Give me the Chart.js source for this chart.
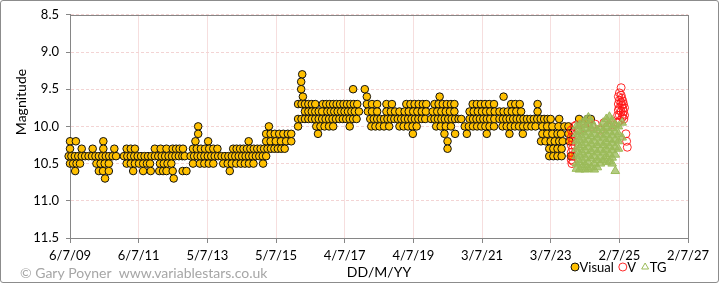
<!DOCTYPE html>
<html>
<head>
<meta charset="utf-8">
<script src="https://cdn.jsdelivr.net/npm/chart.js@4/dist/chart.umd.min.js"></script>
<style>
  html, body { margin: 0; padding: 0; background: #fff; }
  #wrap { position: relative; width: 719px; height: 283px; }
  #wrap canvas { position: absolute; left: 0; top: 0; }
  #frame { position: absolute; left: 0; top: 0; width: 717px; height: 281px;
           border: 1px solid #8c8c8c; border-radius: 3px; pointer-events: none; }
</style>
</head>
<body>
<div id="wrap">
  <canvas id="lightcurve" width="719" height="283"></canvas>
  <div id="frame"></div>
</div>
<script>
// Axis tick labels (D/M/YY), one every 730 days
const tickLabels = ['6/7/09', '6/7/11', '5/7/13', '5/7/15', '4/7/17', '4/7/19', '3/7/21', '3/7/23', '2/7/25', '2/7/27'];
const magTicks = [8.5, 9.0, 9.5, 10.0, 10.5, 11.0, 11.5];

// Visual estimates: [magnitude, [dates as decimal years]]
const visualRows = [
  [9.3, [2016.27]],
  [9.4, [2016.24]],
  [9.5, [2016.24, 2017.75, 2018.09]],
  [9.6, [2016.29, 2018.15, 2020.27, 2022.13]],
  [9.7, [2016.15, 2016.25, 2016.35, 2016.45, 2016.55, 2016.65, 2016.87, 2016.97, 2017.07, 2017.17, 2017.27,
         2017.37, 2017.47, 2017.57, 2017.67, 2017.77, 2017.87, 2018.15, 2018.3, 2018.45, 2018.72, 2018.88,
         2019.3, 2019.42, 2019.54, 2019.66, 2019.78, 2019.88, 2020.12, 2020.24, 2020.36, 2020.48, 2020.6,
         2020.7, 2021.23, 2021.35, 2021.47, 2021.59, 2021.71, 2021.85, 2022.35, 2022.47, 2022.6, 2023.12]],
  [9.8, [2016.35, 2016.45, 2016.55, 2016.65, 2016.75, 2016.85, 2017.0, 2017.1, 2017.2, 2017.3, 2017.4, 2017.5,
         2017.6, 2017.7, 2017.8, 2017.92, 2018.18, 2018.3, 2018.45, 2018.72, 2018.85, 2018.97, 2019.1, 2019.25,
         2019.37, 2019.5, 2019.62, 2019.75, 2019.87, 2020.07, 2020.2, 2020.32, 2020.45, 2020.57, 2020.7,
         2021.14, 2021.26, 2021.38, 2021.5, 2021.62, 2021.74, 2021.87, 2022.01, 2022.13, 2022.25, 2022.37,
         2022.5, 2022.64, 2023.12]],
  [9.9, [2016.15, 2016.25, 2016.35, 2016.45, 2016.55, 2016.65, 2016.75, 2016.85, 2016.95, 2017.05, 2017.15,
         2017.25, 2017.35, 2017.45, 2017.55, 2017.65, 2017.75, 2017.85, 2018.25, 2018.35, 2018.45, 2018.55,
         2018.65, 2018.75, 2018.85, 2018.95, 2019.05, 2019.15, 2019.25, 2019.35, 2019.45, 2019.55, 2019.65,
         2019.75, 2019.85, 2020.02, 2020.12, 2020.22, 2020.32, 2020.42, 2020.52, 2020.62, 2020.72, 2020.82,
         2020.9, 2021.14, 2021.24, 2021.34, 2021.44, 2021.54, 2021.64, 2021.74, 2021.86, 2022.01, 2022.11,
         2022.21, 2022.31, 2022.41, 2022.51, 2022.61, 2022.71, 2022.81, 2022.91, 2023.01, 2023.11, 2023.21,
         2023.31, 2023.41, 2023.5, 2023.75, 2024.33, 2024.57, 2024.67]],
  [10.0, [2013.24, 2015.3, 2016.15, 2016.68, 2016.8, 2016.92, 2017.05, 2017.17, 2017.65, 2018.28, 2018.4,
          2018.52, 2018.65, 2018.8, 2019.1, 2019.22, 2019.35, 2019.48, 2019.6, 2020.17, 2020.3, 2020.45,
          2020.6, 2021.0, 2021.12, 2021.24, 2021.36, 2021.48, 2021.6, 2021.72, 2021.85, 2022.1, 2022.22,
          2022.34, 2022.46, 2022.58, 2022.7, 2022.82, 2022.94, 2023.06, 2023.26, 2023.4, 2023.55, 2023.73,
          2023.9, 2024.02]],
  [10.1, [2013.24, 2015.22, 2015.35, 2015.47, 2015.6, 2015.72, 2015.85, 2015.95, 2016.73, 2019.49, 2020.41,
          2020.72, 2021.06, 2021.64, 2022.3, 2022.69, 2023.26, 2023.4, 2023.55, 2023.7, 2023.8, 2024.02]],
  [10.2, [2009.51, 2009.68, 2010.48, 2013.16, 2013.53, 2014.71, 2015.22, 2015.35, 2015.5, 2015.65, 2015.8,
          2015.95, 2020.5, 2023.22, 2023.35, 2023.5, 2023.62, 2023.75, 2023.85, 2024.05]],
  [10.3, [2009.51, 2009.85, 2010.17, 2010.48, 2010.8, 2011.16, 2011.28, 2011.4, 2011.98, 2012.15, 2012.32,
          2012.5, 2012.6, 2012.7, 2012.8, 2013.09, 2013.2, 2013.32, 2013.44, 2013.56, 2013.68, 2013.8, 2014.26,
          2014.36, 2014.46, 2014.56, 2014.66, 2014.76, 2014.86, 2014.96, 2015.06, 2015.16, 2015.26, 2015.36,
          2015.46, 2015.56, 2015.66, 2015.76, 2020.5, 2023.46, 2023.58, 2023.7, 2023.82]],
  [10.4, [2009.47, 2009.55, 2009.65, 2009.75, 2009.85, 2009.95, 2010.05, 2010.15, 2010.25, 2010.35, 2010.45,
          2010.55, 2010.65, 2010.75, 2010.85, 2011.08, 2011.18, 2011.28, 2011.38, 2011.48, 2011.58, 2011.68,
          2011.78, 2011.88, 2011.98, 2012.08, 2012.18, 2012.28, 2012.38, 2012.48, 2012.58, 2012.68, 2012.78,
          2012.85, 2013.02, 2013.12, 2013.22, 2013.32, 2013.42, 2013.52, 2013.62, 2013.72, 2013.82, 2013.92,
          2014.02, 2014.12, 2014.22, 2014.32, 2014.42, 2014.52, 2014.62, 2014.72, 2014.82, 2014.92, 2015.02,
          2015.12, 2015.22, 2023.46, 2023.58, 2023.7, 2023.82, 2024.09]],
  [10.5, [2009.51, 2009.6, 2009.7, 2009.8, 2010.28, 2010.4, 2010.52, 2010.64, 2011.16, 2011.28, 2011.4,
          2011.52, 2011.64, 2011.75, 2011.84, 2012.13, 2012.24, 2012.35, 2012.46, 2013.09, 2013.29, 2013.42,
          2013.55, 2013.68, 2013.97, 2014.1, 2014.22, 2014.35, 2014.48, 2014.6, 2014.72, 2014.85, 2015.13]],
  [10.6, [2009.66, 2010.35, 2010.47, 2010.64, 2011.35, 2011.64, 2011.86, 2012.11, 2012.22, 2012.32, 2012.5,
          2012.79, 2012.9, 2014.16]],
  [10.7, [2010.53, 2012.53]]
];

// V-band CCD: [decimal year, magnitude]
const vObs = [
  [2024.1, 10.05], [2024.1, 10.15], [2024.1, 10.25], [2024.1, 10.35], [2024.1, 10.45], [2024.12, 10.5],
  [2024.14, 10.1], [2024.14, 10.2], [2024.14, 10.3], [2024.14, 10.4], [2024.16, 10.47], [2024.18, 10.0],
  [2024.2, 10.12], [2024.2, 10.25], [2024.22, 10.35], [2024.25, 9.98], [2024.3, 10.05], [2024.4, 9.97],
  [2024.5, 10.02], [2024.6, 9.95], [2024.7, 10.0], [2024.8, 9.97], [2024.95, 10.05], [2025.05, 9.95],
  [2025.15, 10.0], [2025.3, 9.98],
  [2025.45, 9.85], [2025.45, 9.95], [2025.47, 9.6], [2025.47, 9.7], [2025.47, 9.78], [2025.5, 9.55],
  [2025.5, 9.65], [2025.5, 9.75], [2025.5, 9.85], [2025.52, 9.92], [2025.55, 9.48], [2025.55, 9.58],
  [2025.55, 9.68], [2025.55, 9.8], [2025.57, 9.62], [2025.57, 9.72], [2025.58, 9.88], [2025.6, 9.66],
  [2025.6, 9.76], [2025.6, 9.84], [2025.62, 9.7], [2025.62, 9.8], [2025.63, 9.9], [2025.65, 9.75],
  [2025.65, 9.85], [2025.69, 10.1], [2025.71, 10.2], [2025.73, 10.28]
];

// TG (green CCD): [decimal year, [magnitudes]]
const tgCols = [
  [2024.25, [10.0, 10.1, 10.2, 10.3, 10.4, 10.5, 10.57]],
  [2024.34, [9.98, 10.08, 10.18, 10.28, 10.38, 10.48, 10.58]],
  [2024.42, [9.95, 10.05, 10.15, 10.25, 10.35, 10.45, 10.55]],
  [2024.51, [9.92, 10.02, 10.12, 10.22, 10.32, 10.42, 10.52, 10.58]],
  [2024.6, [9.88, 9.98, 10.08, 10.18, 10.28, 10.38, 10.48, 10.57]],
  [2024.68, [9.93, 10.03, 10.13, 10.23, 10.33, 10.43, 10.55]],
  [2024.77, [10.0, 10.1, 10.2, 10.3, 10.4, 10.5, 10.58]],
  [2024.86, [10.05, 10.15, 10.25, 10.35, 10.45, 10.55]],
  [2024.95, [10.02, 10.12, 10.22, 10.32, 10.42, 10.5]],
  [2025.03, [9.95, 10.05, 10.15, 10.25, 10.35, 10.45]],
  [2025.12, [9.9, 10.0, 10.1, 10.2, 10.3, 10.4, 10.48]],
  [2025.21, [9.87, 9.97, 10.07, 10.17, 10.27, 10.37, 10.47]],
  [2025.29, [9.92, 10.02, 10.12, 10.22, 10.32, 10.42, 10.5]],
  [2025.38, [9.98, 10.08, 10.18, 10.28, 10.38, 10.6]],
  [2025.47, [10.0, 10.1, 10.2, 10.3]],
  [2025.58, [9.95, 10.15]]
];

const FONT = 'Lato, "Open Sans", "DejaVu Sans", sans-serif';

function labelToDay(label) {
  const [d, m, y] = label.split('/').map(Number);
  return Date.UTC(2000 + y, m - 1, d) / 864e5;
}
function yearToDay(yr) {
  const whole = Math.floor(yr);
  return Date.UTC(whole, 0, 1) / 864e5 + (yr - whole) * 365.25;
}

const tickDays = tickLabels.map(labelToDay);
const visualData = visualRows.flatMap(([mag, years]) => years.map(yr => ({ x: yearToDay(yr), y: mag })));
const vData = vObs.map(([yr, mag]) => ({ x: yearToDay(yr), y: mag }));
const tgData = tgCols.flatMap(([yr, mags]) => mags.map(mag => ({ x: yearToDay(yr), y: mag })));

function drawMarker(ctx, style, x, y, r) {
  ctx.beginPath();
  if (style === 'triangle') {
    for (let k = 0; k < 3; k++) {
      const a = k * 2 * Math.PI / 3;
      const px = x + Math.sin(a) * r, py = y - Math.cos(a) * r;
      k === 0 ? ctx.moveTo(px, py) : ctx.lineTo(px, py);
    }
    ctx.closePath();
  } else {
    ctx.arc(x, y, r, 0, Math.PI * 2);
  }
  ctx.fill();
  ctx.stroke();
}

// Plot-area frame, drawn under the points
const plotFrame = {
  id: 'plotFrame',
  beforeDatasetsDraw(chart) {
    const { ctx, chartArea: a } = chart;
    ctx.save();
    ctx.strokeStyle = '#868686';
    ctx.lineWidth = 1;
    ctx.strokeRect(Math.round(a.left) + 0.5, Math.round(a.top) + 0.5,
                   Math.round(a.right - a.left), Math.round(a.bottom - a.top));
    ctx.restore();
  }
};

// Y title, legend and credit line
const extras = {
  id: 'extras',
  afterDraw(chart) {
    const ctx = chart.ctx;
    ctx.save();
    ctx.fillStyle = '#000';
    ctx.font = '14px ' + FONT;
    ctx.textAlign = 'center';
    ctx.textBaseline = 'middle';
    ctx.translate(21, 102);
    ctx.rotate(-Math.PI / 2);
    ctx.fillText('Magnitude', 0, 0);
    ctx.restore();

    ctx.save();
    ctx.font = '14px ' + FONT;
    ctx.fillStyle = '#a6a6a6';
    ctx.textAlign = 'left';
    ctx.textBaseline = 'middle';
    ctx.fillText('\u00A9 Gary Poyner  www.variablestars.co.uk', 20, 273);
    ctx.restore();

    ctx.save();
    ctx.font = '13px ' + FONT;
    ctx.textAlign = 'left';
    ctx.textBaseline = 'middle';
    let x = 571;
    const y = 267;
    chart.data.datasets.forEach(ds => {
      ctx.fillStyle = ds.legendFill;
      ctx.strokeStyle = ds.borderColor;
      ctx.lineWidth = 1;
      drawMarker(ctx, ds.pointStyle, x + 4, y, 4);
      ctx.fillStyle = '#000';
      ctx.fillText(ds.label, x + 8.5, y + 0.5);
      x += 8.5 + ctx.measureText(ds.label).width + 5;
    });
    ctx.restore();
  }
};

new Chart(document.getElementById('lightcurve'), {
  type: 'scatter',
  data: {
    datasets: [
      {
        label: 'Visual',
        data: visualData,
        pointStyle: 'circle',
        pointRadius: 3.8,
        backgroundColor: '#ffc000',
        borderColor: '#111111',
        legendFill: '#ffc000',
        borderWidth: 1,
        clip: false,
        order: 3
      },
      {
        label: 'V',
        data: vData,
        pointStyle: 'circle',
        pointRadius: 4,
        backgroundColor: 'rgba(255, 0, 0, 0)',
        borderColor: 'rgba(255, 20, 20, 0.9)',
        legendFill: 'rgba(255, 0, 0, 0)',
        borderWidth: 1,
        clip: false,
        order: 2
      },
      {
        label: 'TG',
        data: tgData,
        pointStyle: 'triangle',
        pointRadius: 5,
        backgroundColor: 'rgba(155, 187, 89, 0.75)',
        borderColor: '#9bbb59',
        legendFill: 'rgba(155, 187, 89, 0)',
        borderWidth: 1,
        clip: false,
        order: 1
      }
    ]
  },
  options: {
    responsive: false,
    animation: false,
    events: [],
    layout: {
      padding: { left: 0, top: 9, right: 31, bottom: 0 }
    },
    plugins: {
      legend: { display: false },
      tooltip: { enabled: false }
    },
    scales: {
      x: {
        type: 'linear',
        min: tickDays[0],
        max: tickDays[tickDays.length - 1],
        afterBuildTicks: (scale) => {
          scale.ticks = tickDays.map(v => ({ value: v }));
        },
        afterFit: (scale) => { scale.height = 45; },
        grid: {
          color: '#f6dede',
          tickColor: '#868686',
          tickLength: 5,
          tickBorderDash: []
        },
        border: { color: '#868686', width: 1 },
        ticks: {
          autoSkip: false,
          maxRotation: 0,
          padding: 5,
          color: '#000',
          font: { family: FONT, size: 13 },
          callback: (value, index) => tickLabels[index]
        },
        title: {
          display: true,
          text: 'DD/M/YY',
          color: '#000',
          font: { family: FONT, size: 14 },
          padding: { top: 0, bottom: 2 }
        }
      },
      y: {
        type: 'linear',
        reverse: true,
        min: magTicks[0],
        max: magTicks[magTicks.length - 1],
        afterBuildTicks: (scale) => {
          scale.ticks = magTicks.map(v => ({ value: v }));
        },
        afterFit: (scale) => { scale.width = 70; },
        grid: {
          color: '#f3d4d4',
          tickColor: '#868686',
          tickLength: 4,
          tickBorderDash: []
        },
        border: { color: '#868686', width: 1, dash: [3, 2] },
        ticks: {
          padding: 7,
          color: '#000',
          font: { family: FONT, size: 13 },
          callback: (value) => value.toFixed(1)
        }
      }
    }
  },
  plugins: [plotFrame, extras]
});
</script>
</body>
</html>
